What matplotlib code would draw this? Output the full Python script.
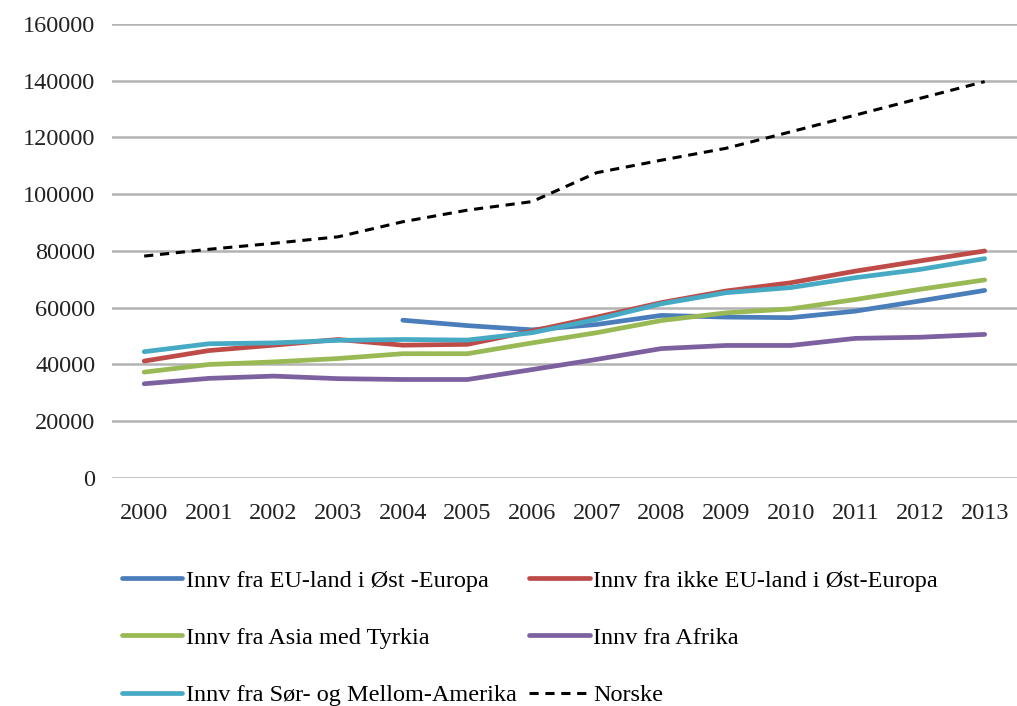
import matplotlib
matplotlib.use("Agg")
import matplotlib.pyplot as plt
import numpy as np

years = list(range(2000, 2014))

eu_ost = [np.nan, np.nan, np.nan, np.nan, 55600, 53700, 52200, 54100, 57300, 56700, 56500, 58800, 62400, 66100]
ikke_eu_ost = [41200, 44900, 46800, 48800, 46800, 47100, 51800, 56700, 61800, 65900, 68800, 72900, 76500, 80000]
asia = [37300, 40000, 40900, 42100, 43800, 43800, 47600, 51200, 55500, 58200, 59600, 62900, 66500, 69800]
afrika = [33200, 35100, 35900, 35000, 34700, 34700, 38200, 41800, 45600, 46700, 46700, 49200, 49600, 50600]
sor_amerika = [44500, 47300, 47600, 48500, 48800, 48600, 51200, 55900, 61400, 65300, 67100, 70600, 73500, 77300]
norske = [78200, 80600, 82700, 85000, 90300, 94400, 97400, 107600, 112000, 116200, 122000, 127900, 133800, 139700]

labels = ["Innv fra EU-land i Øst -Europa", "Innv fra ikke EU-land i Øst-Europa",
          "Innv fra Asia med Tyrkia", "Innv fra Afrika",
          "Innv fra Sør- og Mellom-Amerika", "Norske"]
yticks = list(range(0, 160001, 20000))

plt.rcParams['font.family'] = ['Liberation Serif', 'DejaVu Serif']

fig = plt.figure(figsize=(10.17, 7.06), dpi=100)
ax = fig.add_axes([0.11, 0.323, 0.89, 0.643])

x = np.arange(len(years))
lw = 3.4
l_eu, = ax.plot(x, eu_ost, color='#4a7ebb', lw=lw, solid_capstyle='round')
l_ikke, = ax.plot(x, ikke_eu_ost, color='#be4b48', lw=lw, solid_capstyle='round')
l_asia, = ax.plot(x, asia, color='#98b954', lw=lw, solid_capstyle='round')
l_afr, = ax.plot(x, afrika, color='#7d60a0', lw=lw, solid_capstyle='round')
l_sor, = ax.plot(x, sor_amerika, color='#46aac5', lw=lw, solid_capstyle='round')
l_nor, = ax.plot(x, norske, color='black', lw=2.2, dashes=(3, 2.2))

ax.set_xlim(-0.5, len(years) - 0.5)
ax.set_ylim(0, 160000)
ax.set_yticks(yticks)
ax.set_yticklabels([str(v) for v in yticks])
ax.set_xticks(x)
ax.set_xticklabels([str(y) for y in years])
ax.yaxis.grid(True, color='#b3b3b3', lw=1.8)
ax.set_axisbelow(True)
for s in ax.spines.values():
    s.set_visible(False)
ax.tick_params(length=0, labelsize=17.5, colors='#222222')
ax.tick_params(axis='x', pad=18)
ax.tick_params(axis='y', pad=12)

handles = [l_eu, l_asia, l_sor, l_ikke, l_afr, l_nor]
hl = [labels[0], labels[2], labels[4], labels[1], labels[3], labels[5]]
fig.legend(handles, hl, loc='upper left', bbox_to_anchor=(0.11, 0.207), ncol=2,
           frameon=False, fontsize=17.5, handlelength=2.5, handletextpad=0.15,
           columnspacing=0.5, labelspacing=1.45, borderaxespad=0)

fig.savefig('out.png', dpi=100)
